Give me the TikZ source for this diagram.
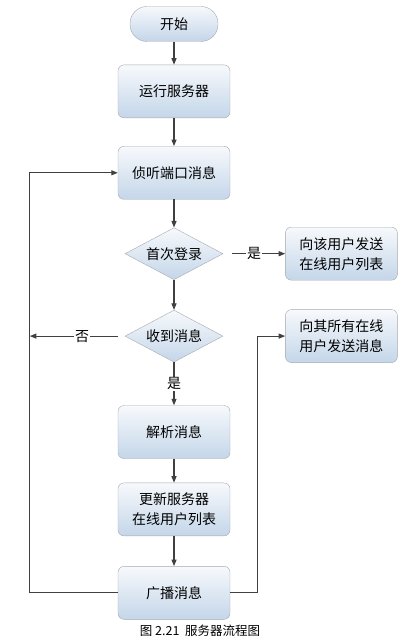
\documentclass[tikz,border=0pt]{standalone}
\usepackage{fontspec}
\newfontfamily\cjk{Noto Sans CJK SC}
\usetikzlibrary{arrows.meta, positioning, shapes.geometric}
\definecolor{boxtop}{RGB}{247,249,252}
\definecolor{boxbot}{RGB}{196,214,233}
\definecolor{boxline}{RGB}{165,170,176}
\definecolor{flowline}{RGB}{64,64,64}

\begin{document}
\begin{tikzpicture}[x=1pt, y=1pt, font=\cjk\fontsize{14}{20}\selectfont,
    box/.style={draw=boxline, top color=boxtop, bottom color=boxbot, align=center},
    proc/.style={box, rectangle, rounded corners=6pt, minimum width=112pt, minimum height=53pt},
    term/.style={box, rectangle, rounded corners=17pt, minimum width=88pt, minimum height=35pt},
    decide/.style={box, diamond, aspect=1.9, inner sep=0pt, minimum width=98pt, minimum height=52pt},
    tag/.style={fill=white, inner sep=1pt},
    flow/.style={draw=flowline, line width=1.1pt, -{Triangle[length=6.5pt,width=5pt]}}]

\useasboundingbox (0,0) rectangle (400,-644);

\node[term] (start) at (174,-24) {开始};
\node[proc, below=23pt of start] (run) {运行服务器};
\node[proc, below=28pt of run] (listen) {侦听端口消息};
\node[decide, below=28pt of listen] (first) {首次登录};
\node[decide, below=30pt of first] (recv) {收到消息};
\node[proc, below=43pt of recv] (parse) {解析消息};
\node[proc, below=24pt of parse] (update) {更新服务器\\在线用户列表};
\node[proc, below=30pt of update] (bcast) {广播消息};
\node[proc, right=62pt of first] (sendlist) {向该用户发送\\在线用户列表};
\node[proc, right=62pt of recv] (sendall) {向其所有在线\\用户发送消息};

\node[font=\cjk\fontsize{12.5}{15}\selectfont] (caption) at (200,-631) {图 2.21\ \ 服务器流程图};

\coordinate (back) at ([xshift=-88pt]bcast.west);
\coordinate (fwd) at ([xshift=27pt]bcast.east);

\draw[flow] (start) -- (run);
\draw[flow] (run) -- (listen);
\draw[flow] (listen) -- (first);
\draw[flow] (first) -- (recv);
\draw[flow, shorten <=9pt] (first) -- node[tag] {是} (sendlist);
\draw[flow] (recv) -- node[tag] {是} (parse);
\draw[flow, shorten <=7pt] (recv.west) -- node[tag, pos=0.45] {否} (recv.west -| back);
\draw[flow] (parse) -- (update);
\draw[flow] (update) -- (bcast);
\draw[flow] (bcast.west) -- (back) |- (listen.west);
\draw[flow] (bcast.east) -- (fwd) |- (sendall.west);
\end{tikzpicture}
\end{document}
